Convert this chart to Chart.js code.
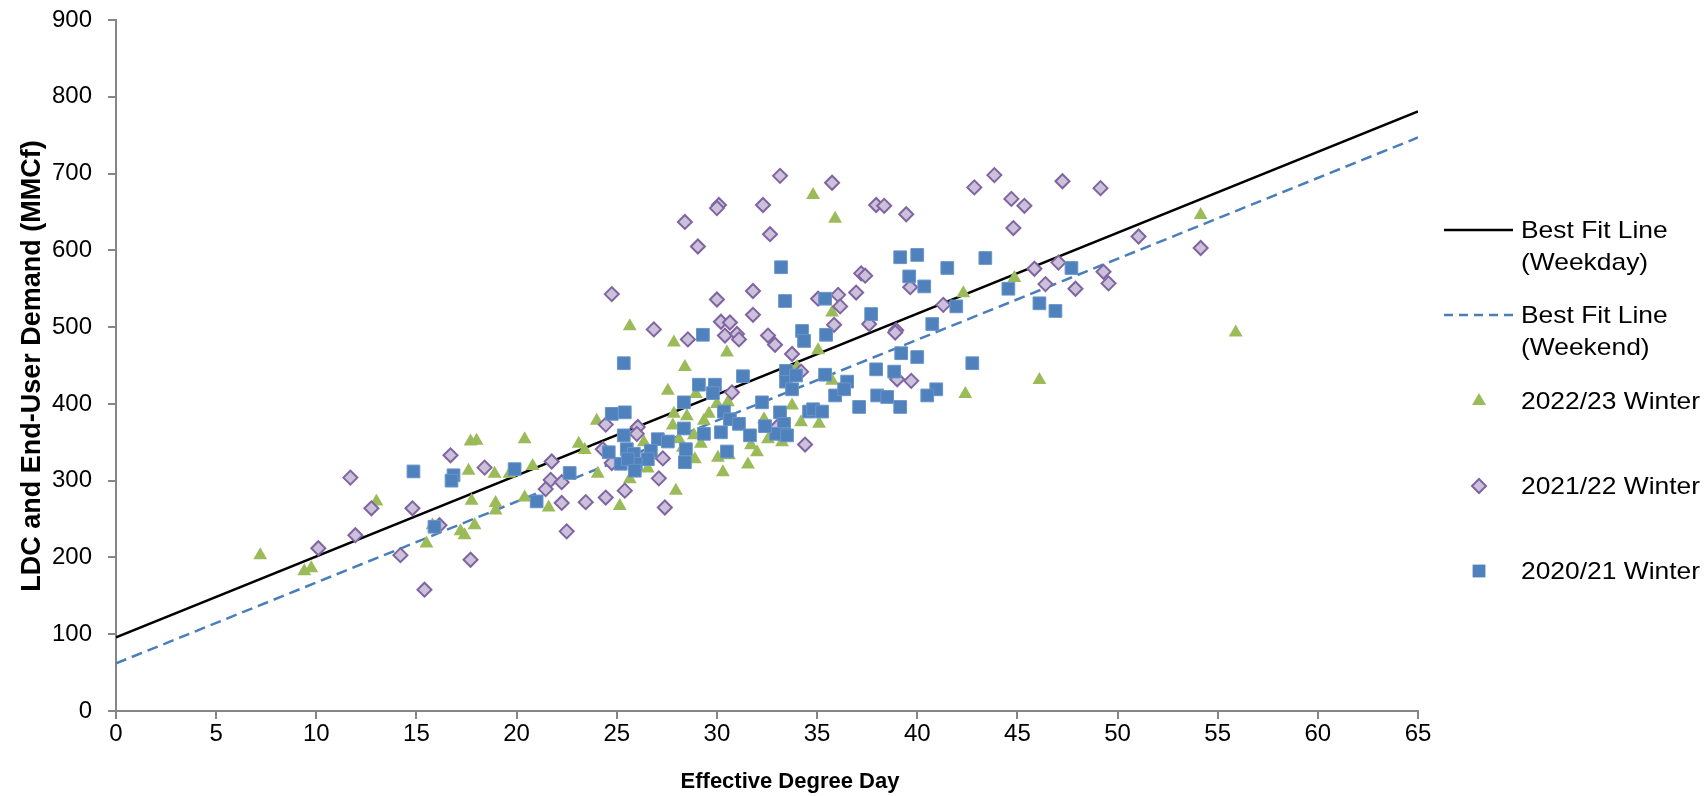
<!DOCTYPE html>
<html>
<head>
<meta charset="utf-8">
<title>LDC and End-User Demand vs Effective Degree Day</title>
<script src="https://cdn.jsdelivr.net/npm/chart.js@4.4.0/dist/chart.umd.min.js"></script>
<style>
  html, body { margin: 0; padding: 0; background: #fff; }
  #wrap { position: relative; width: 1708px; height: 796px; }
  #overlay { position: absolute; left: 0; top: 0; width: 1708px; height: 796px; pointer-events: none;
    font-family: "Liberation Sans", Arial, sans-serif; color: #000; }
  .item { position: absolute; left: 1444px; display: flex; align-items: flex-start; font-size: 24px; }
  .item svg { flex: none; }
  .item .txt { margin-left: 7px; line-height: 32px; white-space: nowrap; transform: scaleX(1.1); transform-origin: left center; }
  .axis-title { position: absolute; font-weight: bold; white-space: nowrap; transform: translate(-50%, -50%); }
  #xTitle { left: 790px; top: 781px; font-size: 22px; }
  #yTitle { left: 31px; top: 366px; font-size: 27px; transform: translate(-50%, -50%) rotate(-90deg); }
</style>
</head>
<body>
<div id="wrap">
  <canvas id="chart" width="1708" height="796"></canvas>
  <div id="overlay">
    <div id="xTitle" class="axis-title"></div>
    <div id="yTitle" class="axis-title"></div>
  </div>
</div>
<script>
// Best fit lines (end points)
const fitX = [0, 65];
const weekdayY = [96, 781];
const weekendY = [62, 747];

// 2022/23 Winter
const w2223X = [7.2, 9.4, 9.75, 13.0, 15.5, 15.8, 17.7, 18.0, 17.6, 17.75, 17.9, 17.2, 17.4, 20.4, 18.9, 18.95, 18.95, 19.65, 20.8, 20.4,
  21.6, 23.1, 23.4, 24.0, 24.05, 25.15, 25.65, 26.55, 27.95, 27.85, 28.5, 27.8, 28.1, 28.85, 29.2, 28.9, 28.3, 29.35, 29.6, 30.05,
  30.3, 30.6, 31.55, 31.7, 32.0, 32.35, 32.55, 33.25, 33.75, 34.2, 35.1, 26.35, 34.8, 35.9, 25.65, 27.85, 30.5, 28.4, 27.55, 35.05,
  35.75, 35.75, 28.95, 34.0, 30.0, 30.55, 42.3, 44.85, 46.1, 42.4, 54.15, 55.9];
const w2223Y = [203, 182, 186, 273, 218, 242, 351, 352, 313, 274, 242, 234, 229, 354, 309, 271, 261, 309, 319, 278,
  265, 348, 340, 378, 309, 267, 302, 316, 287, 387, 384, 372, 354, 359, 348, 328, 343, 378, 387, 330,
  311, 333, 321, 346, 337, 380, 354, 350, 398, 376, 374, 350, 672, 641, 501, 480, 467, 448, 417, 470,
  519, 430, 413, 448, 400, 402, 544, 564, 431, 413, 646, 493];

// 2021/22 Winter
const w2122X = [11.7, 10.1, 12.75, 11.95, 14.8, 14.2, 15.4, 16.7, 16.15, 17.7, 18.4, 33.15, 35.75, 30.1, 30.0, 32.3, 28.4, 32.65, 29.05, 24.75,
  30.0, 31.8, 35.05, 36.05, 36.15, 31.8, 30.2, 30.65, 26.85, 28.55, 30.4, 31.0, 31.1, 32.55, 32.9, 33.75, 34.2, 35.85, 30.75, 24.45,
  26.05, 26.0, 24.3, 24.75, 21.75, 21.7, 21.45, 22.25, 22.25, 23.45, 24.45, 25.4, 22.5, 27.1, 27.3, 27.4, 34.4, 33.0, 43.85, 42.85,
  47.25, 49.15, 44.7, 45.35, 44.8, 37.95, 38.35, 39.45, 51.05, 37.2, 37.4, 36.95, 39.65, 37.6, 38.95, 38.9, 41.3, 45.85, 47.05, 46.4,
  47.9, 49.3, 49.55, 39.0, 39.7, 54.15];
const w2122Y = [304, 212, 264, 229, 264, 203, 158, 333, 242, 197, 317, 697, 688, 659, 655, 659, 637, 621, 605, 543,
  536, 547, 537, 542, 527, 516, 507, 506, 497, 484, 489, 491, 484, 489, 477, 465, 442, 503, 415, 373,
  370, 361, 341, 323, 325, 301, 289, 298, 271, 272, 278, 287, 234, 303, 329, 265, 347, 370, 698, 682,
  690, 681, 667, 658, 629, 659, 658, 647, 618, 570, 567, 545, 552, 504, 496, 493, 529, 576, 584, 556,
  550, 572, 557, 432, 430, 603];

// 2020/21 Winter
const w2021X = [14.85, 16.85, 16.75, 15.9, 19.9, 21.0, 33.2, 33.4, 35.4, 29.3, 34.25, 34.35, 35.45, 25.35, 31.3, 29.1, 29.9, 29.8, 33.45, 33.45,
  33.95, 33.75, 35.4, 28.35, 32.25, 35.9, 24.75, 25.4, 30.35, 30.65, 31.1, 33.15, 33.35, 33.35, 32.95, 33.5, 32.4, 31.65, 34.6, 34.8,
  35.25, 30.2, 29.35, 28.35, 28.45, 28.4, 30.5, 27.05, 27.55, 26.7, 26.55, 25.35, 25.5, 25.85, 25.2, 25.95, 25.55, 25.9, 24.6, 22.65,
  39.15, 40.0, 43.4, 41.5, 47.7, 39.6, 40.35, 41.95, 44.55, 46.1, 46.9, 37.7, 40.75, 39.2, 40.0, 42.75, 37.95, 38.85, 36.5, 40.95,
  40.5, 38.0, 38.5, 36.35, 37.1, 39.15];
const w2021Y = [312, 307, 300, 240, 315, 273, 578, 534, 537, 490, 495, 482, 490, 453, 436, 425, 425, 414, 443, 429,
  437, 419, 438, 402, 402, 411, 387, 389, 390, 380, 374, 389, 374, 361, 361, 359, 371, 359, 390, 393,
  390, 363, 361, 368, 341, 324, 338, 354, 351, 339, 328, 359, 341, 335, 322, 322, 328, 313, 337, 310,
  591, 594, 590, 577, 577, 566, 553, 527, 550, 531, 521, 517, 504, 466, 461, 453, 445, 442, 429, 419,
  411, 411, 409, 419, 396, 396];

const seriesLabels = [
  ["Best Fit Line", "(Weekday)"],
  ["Best Fit Line", "(Weekend)"],
  ["2022/23 Winter"],
  ["2021/22 Winter"],
  ["2020/21 Winter"]
];

const xTitle = "Effective Degree Day";
const yTitle = "LDC and End-User Demand (MMCf)";

const FONT = "'Liberation Sans', Arial, sans-serif";
const AXIS_GREY = "#868686";

const toPoints = (xs, ys) => xs.map((x, i) => ({ x: x, y: ys[i] }));

const datasets = [
  {
    type: "line", label: seriesLabels[0].join(" "), data: toPoints(fitX, weekdayY),
    borderColor: "#000000", borderWidth: 2.5, pointRadius: 0, fill: false, order: 5
  },
  {
    type: "line", label: seriesLabels[1].join(" "), data: toPoints(fitX, weekendY),
    borderColor: "#4A7EBB", borderWidth: 2.5, borderDash: [11, 6], pointRadius: 0, fill: false, order: 4
  },
  {
    label: seriesLabels[2][0], data: toPoints(w2223X, w2223Y),
    pointStyle: "triangle", pointRadius: 8, backgroundColor: "#9BBB59", borderColor: "#9BBB59", borderWidth: 0, order: 3
  },
  {
    label: seriesLabels[3][0], data: toPoints(w2122X, w2122Y),
    pointStyle: "rectRot", pointRadius: 7, backgroundColor: "#CCC1DA", borderColor: "#8064A2", borderWidth: 2, order: 2
  },
  {
    label: seriesLabels[4][0], data: toPoints(w2021X, w2021Y),
    pointStyle: "rect", pointRadius: 9, backgroundColor: "#4F81BD", borderColor: "#6a95c9", borderWidth: 1, order: 1
  }
];

const ctx = document.getElementById("chart").getContext("2d");
new Chart(ctx, {
  type: "scatter",
  data: { datasets: datasets },
  options: {
    responsive: false,
    animation: false,
    events: [],
    layout: { padding: { left: 0, right: 290, top: 20, bottom: 0 } },
    plugins: { legend: { display: false }, tooltip: { enabled: false } },
    scales: {
      x: {
        type: "linear", min: 0, max: 65,
        ticks: { stepSize: 5, color: "#000", font: { family: FONT, size: 24 }, padding: 1, maxRotation: 0, autoSkip: false },
        grid: { drawOnChartArea: false, drawTicks: true, tickLength: 8, color: AXIS_GREY, lineWidth: 2 },
        border: { color: AXIS_GREY, width: 2 },
        afterFit: (scale) => { scale.height = 85; scale.paddingLeft = 0; scale.paddingRight = 0; }
      },
      y: {
        type: "linear", min: 0, max: 900,
        ticks: { stepSize: 100, color: "#000", font: { family: FONT, size: 24 }, padding: 16 },
        grid: { drawOnChartArea: false, drawTicks: true, tickLength: 8, color: AXIS_GREY, lineWidth: 2 },
        border: { color: AXIS_GREY, width: 2 },
        afterFit: (scale) => { scale.width = 116; scale.paddingTop = 0; scale.paddingBottom = 0; }
      }
    }
  }
});

// Axis titles and legend as HTML, so the two-line legend labels wrap like the original
document.getElementById("xTitle").textContent = xTitle;
document.getElementById("yTitle").textContent = yTitle;

const legendTops = [214, 299, 385, 470, 555];
const legendMarks = [
  '<line x1="0" y1="16" x2="69" y2="16" stroke="#000" stroke-width="2.5"/>',
  '<line x1="0" y1="16" x2="69" y2="16" stroke="#4A7EBB" stroke-width="2.5" stroke-dasharray="9 6"/>',
  '<polygon points="35,8 42,20 28,20" fill="#9BBB59"/>',
  '<polygon points="28,16 35,9 42,16 35,23" fill="#CCC1DA" stroke="#8064A2" stroke-width="2"/>',
  '<rect x="28.6" y="9.6" width="12.8" height="12.8" fill="#4F81BD"/>'
];
const overlay = document.getElementById("overlay");
seriesLabels.forEach((lines, i) => {
  const item = document.createElement("div");
  item.className = "item";
  item.style.top = legendTops[i] + "px";
  item.innerHTML = '<svg width="70" height="32" viewBox="0 0 70 32">' + legendMarks[i] + '</svg>' +
    '<div class="txt">' + lines.join("<br>") + '</div>';
  overlay.appendChild(item);
});
</script>
</body>
</html>
